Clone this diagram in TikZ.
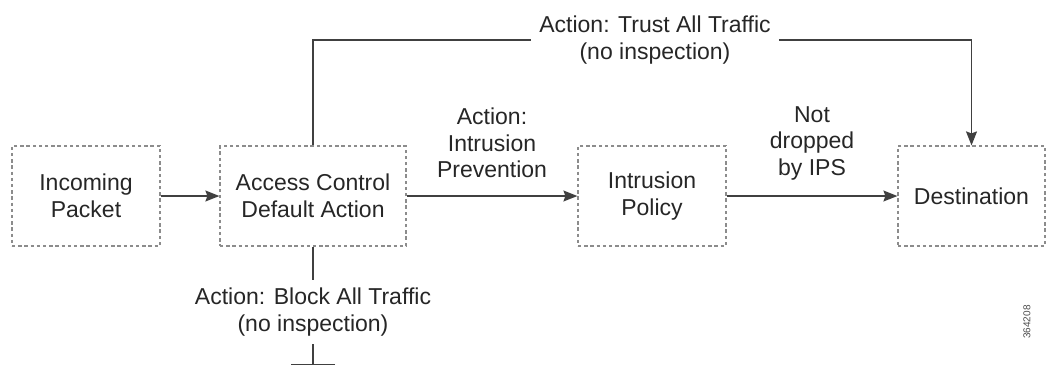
\documentclass[tikz,border=0pt]{standalone}
\usepackage{fontspec}
\setmainfont{Liberation Sans}
\usetikzlibrary{arrows.meta}
\begin{document}
\begin{tikzpicture}[x=1pt,y=-1pt,
  font=\fontsize{23}{26.5}\selectfont,
  every node/.style={text=black!85},
  box/.style={draw=black!45, dashed, dash pattern=on 3.4pt off 2.8pt, line width=1.2pt,
    align=center, minimum height=100pt},
  lbl/.style={align=center, inner sep=8pt},
  conn/.style={draw=black!75, line width=1.5pt},
  arr/.style={conn, -{Stealth[length=14pt,width=11pt,inset=2pt]}}]
\path[use as bounding box] (0,0) rectangle (1050,367);
\node[box, minimum width=148pt] (inc) at (86,196) {Incoming\\Packet};
\node[box, minimum width=186pt] (ac) at (313,196) {Access Control\\Default Action};
\node[box, minimum width=148pt] (ip) at (652,196) {Intrusion\\Policy};
\node[box, minimum width=147pt] (dest) at (971.5,196) {Destination};
\node[lbl] (trust) at (655,40) {Action: Trust All Traffic\\(no inspection)};
\node[lbl] (prev) at (492,143) {Action:\\Intrusion\\Prevention};
\node[lbl] (notdrop) at (812,143) {Not\\dropped\\by IPS};
\node[lbl] (block) at (313,312) {Action: Block All Traffic\\(no inspection)};
\node[rotate=90, font=\fontsize{10}{12}\selectfont, text=black!70] (num) at (1027,322) {364208};
\coordinate (bend) at (313,365);
\draw[arr] (inc) -- (ac);
\draw[arr] (ac) -- (ip);
\draw[arr] (ip) -- (dest);
\draw[conn] (ac.north) |- (trust.west);
\draw[arr] (trust.east) -| (dest.north);
\draw[conn] (ac.south) -- (block.north);
\draw[conn, -{Bar[width=44pt,line width=1.5pt]}] (block.south) -- (bend);
\end{tikzpicture}
\end{document}
